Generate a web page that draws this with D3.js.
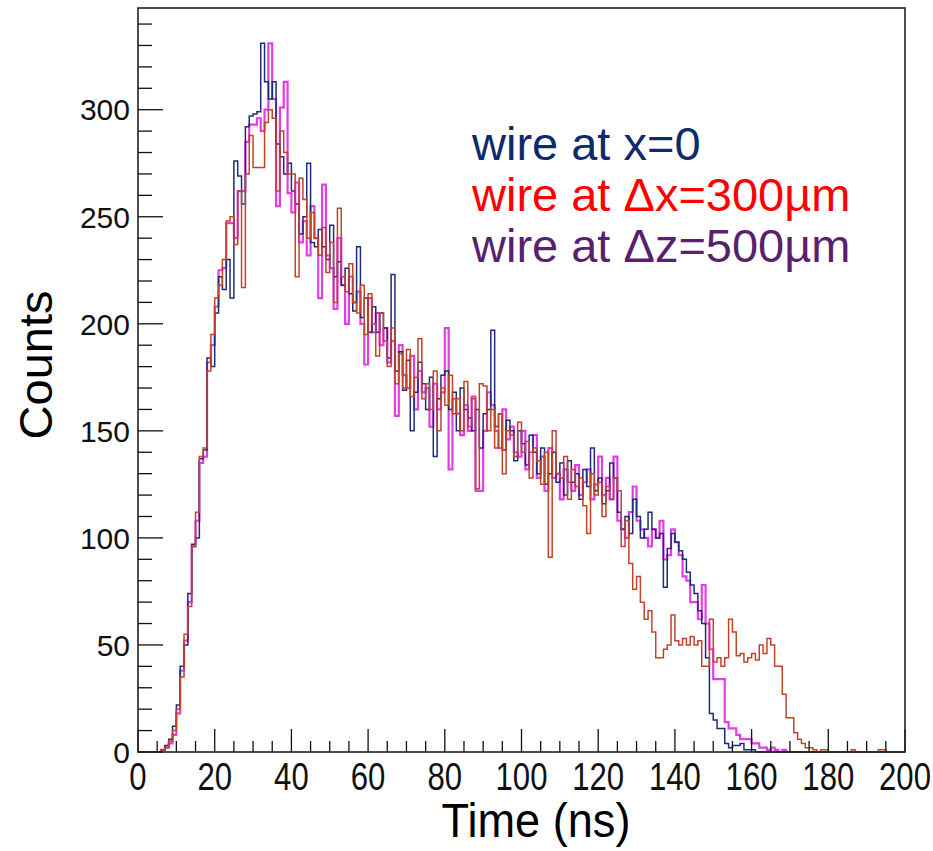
<!DOCTYPE html>
<html>
<head>
<meta charset="utf-8">
<script src="https://cdn.jsdelivr.net/npm/d3@7"></script>
<style>
  body { margin: 0; background: #fff; }
  svg { display: block; font-family: 'Liberation Sans', Arial, sans-serif; }
</style>
</head>
<body>
<svg id="chart" width="933" height="851"></svg>
<script>
// 1 ns bins, 0..200 ns
const binEdges = [0, 200]
const yMax = 347.5

const xTickValues = [0, 20, 40, 60, 80, 100, 120, 140, 160, 180, 200]
const yTickValues = [0, 50, 100, 150, 200, 250, 300]

// wire at x=0
const countsX0 = [
  0, 0, 0, 0, 0, 0, 1, 3, 6, 12,
  22, 40, 50, 74, 97, 100, 137, 141, 184, 180,
  205, 222, 216, 230, 212, 276, 269, 256, 292, 297,
  298, 299, 331, 313, 305, 313, 284, 278, 270, 275,
  262, 256, 242, 250, 275, 238, 236, 244, 236, 230,
  246, 222, 229, 218, 226, 214, 206, 236, 203, 212,
  196, 208, 196, 205, 198, 184, 223, 178, 187, 169,
  183, 150, 168, 182, 172, 160, 175, 138, 165, 176,
  178, 160, 168, 150, 170, 160, 156, 150, 160, 142,
  158, 160, 197, 152, 158, 141, 155, 150, 136, 150,
  144, 134, 148, 140, 130, 142, 125, 130, 140, 126,
  135, 120, 136, 126, 130, 118, 132, 124, 142, 122,
  128, 116, 122, 135, 128, 112, 104, 110, 102, 118,
  110, 100, 104, 112, 104, 100, 102, 77, 95, 102,
  98, 94, 90, 84, 78, 74, 66, 60, 44, 18,
  15, 11, 11, 4, 2, 3, 3, 4, 1, 1,
  1, 0, 0, 0, 0, 0, 0, 0, 0, 0,
  0, 0, 0, 0, 0, 0, 0, 0, 0, 0,
  0, 0, 0, 0, 0, 0, 0, 0, 0, 0,
  0, 0, 0, 0, 0, 0, 0, 0, 0, 0
]

// wire at dx=300um
const countsDx300 = [
  0, 0, 0, 0, 0, 0, 1, 2, 5, 10,
  20, 35, 55, 68, 96, 112, 138, 142, 178, 195,
  212, 218, 230, 248, 250, 237, 262, 217, 270, 288,
  273, 273, 273, 294, 300, 296, 262, 290, 280, 270,
  270, 222, 268, 258, 240, 252, 240, 232, 245, 224,
  238, 210, 254, 222, 215, 228, 210, 205, 218, 195,
  214, 200, 185, 205, 192, 180, 198, 172, 186, 170,
  188, 166, 175, 193, 165, 172, 160, 178, 150, 170,
  162, 176, 158, 165, 150, 173, 152, 165, 123, 172,
  171, 150, 160, 142, 158, 130, 150, 148, 138, 154,
  140, 145, 128, 142, 136, 125, 140, 91, 150, 130,
  128, 138, 118, 132, 124, 128, 115, 102, 130, 120,
  126, 110, 124, 118, 128, 122, 96, 108, 88, 76,
  82, 70, 62, 66, 56, 44, 44, 48, 50, 64,
  52, 50, 53, 50, 54, 50, 52, 40, 40, 62,
  42, 44, 40, 44, 62, 56, 45, 46, 42, 44,
  46, 43, 50, 46, 53, 50, 40, 40, 27, 16,
  16, 9, 6, 4, 2, 2, 1, 0, 1, 1,
  0, 0, 0, 0, 0, 0, 1, 0, 0, 0,
  0, 0, 0, 1, 1, 0, 0, 0, 0, 0
]

// wire at dz=500um
const countsDz500 = [
  0, 0, 0, 0, 0, 0, 1, 2, 4, 8,
  18, 38, 52, 70, 96, 108, 135, 138, 182, 190,
  208, 225, 226, 247, 247, 240, 262, 262, 285, 293,
  293, 296, 290, 300, 331, 305, 255, 301, 313, 261,
  252, 266, 238, 248, 232, 255, 240, 212, 265, 232,
  226, 207, 240, 218, 200, 222, 210, 215, 200, 181,
  212, 196, 205, 190, 198, 182, 192, 157, 190, 176,
  170, 185, 160, 178, 168, 170, 152, 172, 160, 168,
  198, 132, 165, 158, 148, 162, 150, 166, 122, 122,
  150, 168, 162, 150, 142, 160, 146, 152, 140, 138,
  150, 132, 140, 148, 128, 138, 122, 142, 128, 130,
  118, 132, 126, 122, 134, 120, 126, 132, 118, 125,
  138, 120, 128, 118, 138, 108, 104, 100, 112, 124,
  108, 104, 100, 96, 104, 100, 108, 90, 92, 104,
  98, 92, 82, 80, 70, 70, 62, 78, 60, 48,
  34, 34, 34, 14, 11, 11, 8, 6, 6, 6,
  4, 4, 2, 2, 1, 2, 1, 0, 1, 0,
  0, 0, 0, 0, 0, 0, 0, 0, 0, 0,
  0, 0, 0, 0, 0, 0, 0, 0, 0, 0,
  0, 0, 0, 0, 0, 0, 0, 0, 0, 0
]

const seriesNames = ['wire at x=0', 'wire at \u0394x=300\u00b5m', 'wire at \u0394z=500\u00b5m']
const lineColors = ['#1f2c78', '#c0442a', '#e23ee6']
const legendColors = ['#0f2a6b', '#ff0000', '#5a1f6e']

const margin = { top: 8, right: 28, bottom: 99, left: 138 }
const width = 933
const height = 851
const plotW = width - margin.left - margin.right
const plotH = height - margin.top - margin.bottom

const svg = d3.select('#chart')
const g = svg.append('g').attr('transform', `translate(${margin.left},${margin.top})`)

const x = d3.scaleLinear().domain(binEdges).range([0, plotW])
const y = d3.scaleLinear().domain([0, yMax]).range([plotH, 0])

// histogram outlines
const histLine = d3.line()
  .x(d => x(d[0]))
  .y(d => y(d[1]))
  .curve(d3.curveStepAfter)

function toSteps (counts) {
  const pts = counts.map((c, i) => [i, c])
  pts.push([counts.length, counts[counts.length - 1]])
  return [[0, 0]].concat(pts, [[counts.length, 0]])
}

const drawOrder = [
  { counts: countsDz500, color: lineColors[2], w: 2.2 },
  { counts: countsX0, color: lineColors[0], w: 1.5 },
  { counts: countsDx300, color: lineColors[1], w: 1.5 }
]

drawOrder.forEach(s => {
  g.append('path')
    .datum(toSteps(s.counts))
    .attr('fill', 'none')
    .attr('stroke', s.color)
    .attr('stroke-width', s.w)
    .attr('stroke-linejoin', 'miter')
    .attr('d', histLine)
})

// ticks (ROOT style, pointing inwards)
const yMinor = d3.range(0, 341, 10)
g.selectAll('.ytick')
  .data(yMinor)
  .enter()
  .append('line')
  .attr('x1', 0)
  .attr('x2', d => (d % 50 === 0 ? 25 : 14))
  .attr('y1', d => y(d))
  .attr('y2', d => y(d))
  .attr('stroke', '#111')
  .attr('stroke-width', 1.3)

const xMinor = d3.range(0, 201, 5)
g.selectAll('.xtick')
  .data(xMinor)
  .enter()
  .append('line')
  .attr('x1', d => x(d))
  .attr('x2', d => x(d))
  .attr('y1', plotH)
  .attr('y2', d => plotH - (d % 20 === 0 ? 23 : 11))
  .attr('stroke', '#111')
  .attr('stroke-width', 1.3)

// frame
g.append('rect')
  .attr('x', 0)
  .attr('y', 0)
  .attr('width', plotW)
  .attr('height', plotH)
  .attr('fill', 'none')
  .attr('stroke', '#222')
  .attr('stroke-width', 1.6)

// tick labels
g.selectAll('.ylab')
  .data(yTickValues)
  .enter()
  .append('text')
  .attr('x', -8)
  .attr('y', d => y(d))
  .attr('dy', '0.36em')
  .attr('text-anchor', 'end')
  .style('font-size', '30px')
  .attr('fill', '#111')
  .text(d => d)

g.selectAll('.xlab')
  .data(xTickValues)
  .enter()
  .append('text')
  .attr('transform', d => `translate(${x(d)},${plotH + 38}) scale(0.82,1)`)
  .attr('text-anchor', 'middle')
  .style('font-size', '38px')
  .attr('fill', '#111')
  .text(d => d)

// axis titles
svg.append('text')
  .attr('transform', `translate(536,837) scale(0.94,1)`)
  .attr('text-anchor', 'middle')
  .style('font-size', '48px')
  .attr('fill', '#000')
  .text('Time (ns)')

svg.append('text')
  .attr('transform', 'translate(52,365) rotate(-90)')
  .attr('text-anchor', 'middle')
  .style('font-size', '47px')
  .attr('fill', '#000')
  .text('Counts')

// legend
const legendY = [160, 211, 262]
seriesNames.forEach((name, i) => {
  svg.append('text')
    .attr('x', 472)
    .attr('y', legendY[i])
    .style('font-size', '47px')
    .attr('fill', legendColors[i])
    .text(name)
})
</script>
</body>
</html>
